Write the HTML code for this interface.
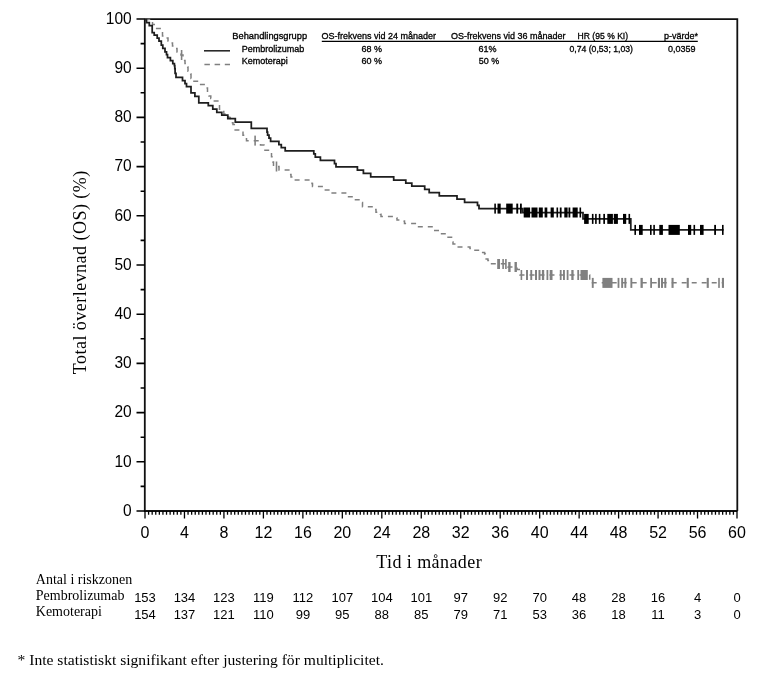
<!DOCTYPE html>
<html lang="sv"><head><meta charset="utf-8"><title>Total överlevnad (OS)</title>
<style>html,body{margin:0;padding:0;background:#fff;width:762px;height:675px;overflow:hidden}svg{display:block}</style>
</head><body><svg width="762" height="675" viewBox="0 0 762 675"><path d="M144.8 19.2H737.3V511M144.8 19.2V511H737.3" fill="none" stroke="#111" stroke-width="1.8"/><path d="M136.5 511.00H145M136.5 461.80H145M136.5 412.60H145M136.5 363.40H145M136.5 314.20H145M136.5 265.00H145M136.5 215.80H145M136.5 166.60H145M136.5 117.40H145M136.5 68.20H145M136.5 19.00H145M140.6 486.40H145M140.6 437.20H145M140.6 388.00H145M140.6 338.80H145M140.6 289.60H145M140.6 240.40H145M140.6 191.20H145M140.6 142.00H145M140.6 92.80H145M140.6 43.60H145" stroke="#000" stroke-width="1.6" fill="none"/><path d="M145.00 511V518.6M184.47 511V518.6M223.93 511V518.6M263.40 511V518.6M302.87 511V518.6M342.33 511V518.6M381.80 511V518.6M421.27 511V518.6M460.73 511V518.6M500.20 511V518.6M539.67 511V518.6M579.13 511V518.6M618.60 511V518.6M658.07 511V518.6M697.53 511V518.6M737.00 511V518.6M148.59 511V514.8M152.18 511V514.8M155.76 511V514.8M159.35 511V514.8M162.94 511V514.8M166.53 511V514.8M170.12 511V514.8M173.70 511V514.8M177.29 511V514.8M180.88 511V514.8M188.05 511V514.8M191.64 511V514.8M195.23 511V514.8M198.82 511V514.8M202.41 511V514.8M205.99 511V514.8M209.58 511V514.8M213.17 511V514.8M216.76 511V514.8M220.35 511V514.8M227.52 511V514.8M231.11 511V514.8M234.70 511V514.8M238.28 511V514.8M241.87 511V514.8M245.46 511V514.8M249.05 511V514.8M252.64 511V514.8M256.22 511V514.8M259.81 511V514.8M266.99 511V514.8M270.58 511V514.8M274.16 511V514.8M277.75 511V514.8M281.34 511V514.8M284.93 511V514.8M288.52 511V514.8M292.10 511V514.8M295.69 511V514.8M299.28 511V514.8M306.45 511V514.8M310.04 511V514.8M313.63 511V514.8M317.22 511V514.8M320.81 511V514.8M324.39 511V514.8M327.98 511V514.8M331.57 511V514.8M335.16 511V514.8M338.75 511V514.8M345.92 511V514.8M349.51 511V514.8M353.10 511V514.8M356.68 511V514.8M360.27 511V514.8M363.86 511V514.8M367.45 511V514.8M371.04 511V514.8M374.62 511V514.8M378.21 511V514.8M385.39 511V514.8M388.98 511V514.8M392.56 511V514.8M396.15 511V514.8M399.74 511V514.8M403.33 511V514.8M406.92 511V514.8M410.50 511V514.8M414.09 511V514.8M417.68 511V514.8M424.85 511V514.8M428.44 511V514.8M432.03 511V514.8M435.62 511V514.8M439.21 511V514.8M442.79 511V514.8M446.38 511V514.8M449.97 511V514.8M453.56 511V514.8M457.15 511V514.8M464.32 511V514.8M467.91 511V514.8M471.50 511V514.8M475.08 511V514.8M478.67 511V514.8M482.26 511V514.8M485.85 511V514.8M489.44 511V514.8M493.02 511V514.8M496.61 511V514.8M503.79 511V514.8M507.38 511V514.8M510.96 511V514.8M514.55 511V514.8M518.14 511V514.8M521.73 511V514.8M525.32 511V514.8M528.90 511V514.8M532.49 511V514.8M536.08 511V514.8M543.25 511V514.8M546.84 511V514.8M550.43 511V514.8M554.02 511V514.8M557.61 511V514.8M561.19 511V514.8M564.78 511V514.8M568.37 511V514.8M571.96 511V514.8M575.55 511V514.8M582.72 511V514.8M586.31 511V514.8M589.90 511V514.8M593.48 511V514.8M597.07 511V514.8M600.66 511V514.8M604.25 511V514.8M607.84 511V514.8M611.42 511V514.8M615.01 511V514.8M622.19 511V514.8M625.78 511V514.8M629.36 511V514.8M632.95 511V514.8M636.54 511V514.8M640.13 511V514.8M643.72 511V514.8M647.30 511V514.8M650.89 511V514.8M654.48 511V514.8M661.65 511V514.8M665.24 511V514.8M668.83 511V514.8M672.42 511V514.8M676.01 511V514.8M679.59 511V514.8M683.18 511V514.8M686.77 511V514.8M690.36 511V514.8M693.95 511V514.8M701.12 511V514.8M704.71 511V514.8M708.30 511V514.8M711.88 511V514.8M715.47 511V514.8M719.06 511V514.8M722.65 511V514.8M726.24 511V514.8M729.82 511V514.8M733.41 511V514.8" stroke="#000" stroke-width="1.3" fill="none"/><g font-family="Liberation Sans, Arial, sans-serif" font-size="15.5" text-anchor="end" fill="#000"><text transform="translate(131.7 515.72) scale(1 1.03)">0</text><text transform="translate(131.7 466.52) scale(1 1.03)">10</text><text transform="translate(131.7 417.32) scale(1 1.03)">20</text><text transform="translate(131.7 368.12) scale(1 1.03)">30</text><text transform="translate(131.7 318.92) scale(1 1.03)">40</text><text transform="translate(131.7 269.72) scale(1 1.03)">50</text><text transform="translate(131.7 220.52) scale(1 1.03)">60</text><text transform="translate(131.7 171.32) scale(1 1.03)">70</text><text transform="translate(131.7 122.12) scale(1 1.03)">80</text><text transform="translate(131.7 72.92) scale(1 1.03)">90</text><text transform="translate(131.7 23.72) scale(1 1.03)">100</text></g><g font-family="Liberation Sans, Arial, sans-serif" font-size="16" text-anchor="middle" fill="#000"><text transform="translate(145.00 537.83) scale(1 1.0)">0</text><text transform="translate(184.47 537.83) scale(1 1.0)">4</text><text transform="translate(223.93 537.83) scale(1 1.0)">8</text><text transform="translate(263.40 537.83) scale(1 1.0)">12</text><text transform="translate(302.87 537.83) scale(1 1.0)">16</text><text transform="translate(342.33 537.83) scale(1 1.0)">20</text><text transform="translate(381.80 537.83) scale(1 1.0)">24</text><text transform="translate(421.27 537.83) scale(1 1.0)">28</text><text transform="translate(460.73 537.83) scale(1 1.0)">32</text><text transform="translate(500.20 537.83) scale(1 1.0)">36</text><text transform="translate(539.67 537.83) scale(1 1.0)">40</text><text transform="translate(579.13 537.83) scale(1 1.0)">44</text><text transform="translate(618.60 537.83) scale(1 1.0)">48</text><text transform="translate(658.07 537.83) scale(1 1.0)">52</text><text transform="translate(697.53 537.83) scale(1 1.0)">56</text><text transform="translate(737.00 537.83) scale(1 1.0)">60</text></g><text transform="translate(86.2 374.2) rotate(-90)" font-family="Liberation Serif, Times New Roman, serif" font-size="18" letter-spacing="0.47" fill="#000">Total överlevnad (OS) (%)</text><text x="376.2" y="568" font-family="Liberation Serif, Times New Roman, serif" font-size="18" letter-spacing="0.43" fill="#000">Tid i månader</text><g font-family="Liberation Serif, Times New Roman, serif" font-size="14" fill="#000"><text x="35.8" y="584">Antal i riskzonen</text><text x="35.8" y="599.6">Pembrolizumab</text><text x="35.8" y="615.6">Kemoterapi</text></g><g font-family="Liberation Sans, Arial, sans-serif" font-size="13" text-anchor="middle" fill="#000"><text x="145.0" y="602">153</text><text x="145.0" y="618.6">154</text><text x="184.5" y="602">134</text><text x="184.5" y="618.6">137</text><text x="223.9" y="602">123</text><text x="223.9" y="618.6">121</text><text x="263.4" y="602">119</text><text x="263.4" y="618.6">110</text><text x="302.9" y="602">112</text><text x="302.9" y="618.6">99</text><text x="342.3" y="602">107</text><text x="342.3" y="618.6">95</text><text x="381.8" y="602">104</text><text x="381.8" y="618.6">88</text><text x="421.3" y="602">101</text><text x="421.3" y="618.6">85</text><text x="460.7" y="602">97</text><text x="460.7" y="618.6">79</text><text x="500.2" y="602">92</text><text x="500.2" y="618.6">71</text><text x="539.7" y="602">70</text><text x="539.7" y="618.6">53</text><text x="579.1" y="602">48</text><text x="579.1" y="618.6">36</text><text x="618.6" y="602">28</text><text x="618.6" y="618.6">18</text><text x="658.1" y="602">16</text><text x="658.1" y="618.6">11</text><text x="697.5" y="602">4</text><text x="697.5" y="618.6">3</text><text x="737.0" y="602">0</text><text x="737.0" y="618.6">0</text></g><text x="17.5" y="664.7" font-family="Liberation Serif, Times New Roman, serif" font-size="15.6" fill="#000">* Inte statistiskt signifikant efter justering för multiplicitet.</text><g font-family="Liberation Sans, Arial, sans-serif" font-size="9" fill="#000" stroke="#000" stroke-width="0.3"><text transform="translate(232.3 39.45) scale(1 1.07)" textLength="74.8" lengthAdjust="spacingAndGlyphs">Behandlingsgrupp</text><text transform="translate(241.7 51.7) scale(1 1.07)">Pembrolizumab</text><text transform="translate(241.7 63.5) scale(1 1.07)">Kemoterapi</text><text transform="translate(321.6 39.45) scale(1 1.07)">OS-frekvens vid 24 månader</text><text transform="translate(451.0 39.45) scale(1 1.07)">OS-frekvens vid 36 månader</text><text transform="translate(577.6 39.45) scale(1 1.07)" textLength="50.5" lengthAdjust="spacingAndGlyphs">HR (95 % KI)</text><text transform="translate(664.0 39.45) scale(1 1.07)">p-värde*</text><text transform="translate(361.5 51.7) scale(1 1.07)">68 %</text><text transform="translate(361.5 63.5) scale(1 1.07)">60 %</text><text transform="translate(478.5 51.7) scale(1 1.07)">61%</text><text transform="translate(478.8 63.5) scale(1 1.07)">50 %</text><text transform="translate(569.4 51.7) scale(1 1.07)" textLength="63.6" lengthAdjust="spacingAndGlyphs">0,74 (0,53; 1,03)</text><text transform="translate(668.0 51.7) scale(1 1.07)">0,0359</text></g><path d="M321.8 41.4H697.8" stroke="#000" stroke-width="1.2"/><path d="M204 50.8H230" stroke="#2a2a2a" stroke-width="1.6"/><path d="M204.4 64.5H230" stroke="#808080" stroke-width="1.4" stroke-dasharray="5.5 4.7"/><path d="M145 19.5H149.5V21.5H152.5V24.5H155.5V28.6H161.5V32H162.5V36H166.5V38H168V41H171V43H172.5V46H175.5V48.5H177V52H181V55H183V60.6H185V63.6H187.7V67H188V71.3H190.7V74H191V78.4H192.5V81.3H199V84.6H207.2V88H207.5V92H209V96H210.8V98.5H212.5V100.9H219.1V105H219.5V109.2H222V111.5H223.8V113.9H228.6V117.4H230.3V119.2H231.5V122.8H233V124.6H234.3V130.1H241V132.2H243V135.2H245.5V138.8H246.5V140.8H260.5V145H264V150.3H271.1V152.7H271.5V156.8H272.9V162.1H273.5V166.5H279V169.9H290.7V174.6H291V177H294.5V179.9H312V183.5H312.5V186.6H324.2V189.9H331V193.1H347.5V196.7H354V199.8H362.1V202.4H362.5V206.7H375.8V209.6H376V212.2H380.4V214.2H381V216.6H396.8V218.1H397V220.1H404.1V221H404.5V223.4H416.5V226.7H433V230.5H439.5V233.7H446.5V237.2H452.3V242H453V244H457V247H470V248.6H474V250.3H481.3V252.6H484.6V253.9H485.3V259.1H487.9V260.4H490.5V263.7H508V267H517V269.5H520V275H589.7V282.8H724" fill="none" stroke="#808080" stroke-width="1.5" stroke-dasharray="5 5"/><path d="M145 19.5H146.5V22.5H149.3V25.5H152.2V32.5H154.2V35H157.2V38H159V41.2H161.3V45H162.8V48.4H165V51.8H166.5V54.5H167.5V57.7H170.4V60.7H172.8V63.5H174.4V65.5H174.8V68.5H175.1V73.4H176V77.3H182.5V80.6H185V83.5H186.5V86.5H191V92.9H194.9V96.4H198.8V102.8H208.3V105.6H212.8V109.2H216.8V112.3H221.8V115.2H227.8V118.7H235.3V122.1H251.3V128.4H267V132H267.6V135H269V138H270.6V141.4H278.9V144.5H281.3V147.6H285.2V150.8H313.8V153.8H315.3V157.1H320.4V160.3H334.5V163.6H336V166.9H357.4V170.2H363.4V173.4H370.7V176.8H393.7V180.1H405.8V183.1H411.8V186H424.7V189.3H429.2V192.6H439.3V195.8H457V199H464.6V202.3H477.5V205.3H479V208.6H522.8V212.5H583V218.9H630.8V229.9H723.6" fill="none" stroke="#1e1e1e" stroke-width="1.75"/><g fill="#000"><rect x="494.3" y="203.6" width="1.6" height="10"/><rect x="497.5" y="203.6" width="3.2" height="10"/><rect x="506.2" y="203.6" width="6.5" height="10"/><rect x="516.3" y="203.6" width="1.9" height="10"/><rect x="520.0" y="203.6" width="1.8" height="10"/></g><g fill="#000"><rect x="523.7" y="207.5" width="6.4" height="10"/><rect x="531.5" y="207.5" width="6.0" height="10"/><rect x="538.8" y="207.5" width="4.0" height="10"/><rect x="544.6" y="207.5" width="2.7" height="10"/><rect x="550.6" y="207.5" width="3.2" height="10"/><rect x="556.5" y="207.5" width="1.6" height="10"/><rect x="559.8" y="207.5" width="1.8" height="10"/><rect x="564.3" y="207.5" width="3.3" height="10"/><rect x="568.5" y="207.5" width="1.8" height="10"/><rect x="572.6" y="207.5" width="5.1" height="10"/><rect x="579.5" y="207.5" width="1.6" height="10"/></g><g fill="#000"><rect x="584.1" y="213.9" width="4.6" height="10"/><rect x="591.9" y="213.9" width="1.6" height="10"/><rect x="595.1" y="213.9" width="1.6" height="10"/><rect x="598.8" y="213.9" width="1.6" height="10"/><rect x="603.3" y="213.9" width="1.7" height="10"/><rect x="607.3" y="213.9" width="5.6" height="10"/><rect x="613.8" y="213.9" width="4.1" height="10"/><rect x="623.0" y="213.9" width="3.2" height="10"/><rect x="628.5" y="213.9" width="1.6" height="10"/></g><g fill="#000"><rect x="634.4" y="224.9" width="1.6" height="10"/><rect x="639.0" y="224.9" width="3.7" height="10"/><rect x="650.0" y="224.9" width="1.6" height="10"/><rect x="653.3" y="224.9" width="1.6" height="10"/><rect x="659.3" y="224.9" width="3.6" height="10"/><rect x="668.5" y="224.9" width="11.3" height="10"/><rect x="688.0" y="224.9" width="3.2" height="10"/><rect x="693.5" y="224.9" width="1.6" height="10"/><rect x="700.0" y="224.9" width="3.6" height="10"/><rect x="714.2" y="224.9" width="1.8" height="10"/><rect x="722.0" y="224.9" width="1.6" height="10"/></g><g fill="#808080"><rect x="180.8" y="50.0" width="1.6" height="10"/></g><g fill="#808080"><rect x="254.3" y="135.6" width="1.6" height="10"/></g><g fill="#808080"><rect x="275.7" y="161.5" width="1.6" height="10"/></g><g fill="#808080"><rect x="497.2" y="259.0" width="2.8" height="10"/><rect x="502.3" y="259.0" width="1.6" height="10"/><rect x="505.1" y="259.0" width="1.6" height="10"/></g><g fill="#808080"><rect x="508.2" y="262.0" width="2.4" height="10"/><rect x="514.5" y="262.0" width="2.4" height="10"/></g><g fill="#808080"><rect x="520.6" y="270.0" width="1.6" height="10"/><rect x="526.0" y="270.0" width="2.0" height="10"/><rect x="530.3" y="270.0" width="1.9" height="10"/><rect x="535.0" y="270.0" width="2.0" height="10"/><rect x="538.5" y="270.0" width="2.0" height="10"/><rect x="541.9" y="270.0" width="2.3" height="10"/><rect x="546.5" y="270.0" width="1.8" height="10"/><rect x="549.7" y="270.0" width="2.8" height="10"/><rect x="559.8" y="270.0" width="1.8" height="10"/><rect x="563.0" y="270.0" width="1.9" height="10"/><rect x="566.7" y="270.0" width="1.8" height="10"/><rect x="571.3" y="270.0" width="2.3" height="10"/><rect x="577.3" y="270.0" width="1.8" height="10"/><rect x="580.5" y="270.0" width="7.3" height="10"/></g><g fill="#808080"><rect x="591.8" y="277.9" width="1.9" height="10"/><rect x="602.4" y="277.9" width="10.1" height="10"/><rect x="617.6" y="277.9" width="1.8" height="10"/><rect x="621.2" y="277.9" width="1.9" height="10"/><rect x="624.4" y="277.9" width="1.9" height="10"/><rect x="630.4" y="277.9" width="1.9" height="10"/><rect x="640.5" y="277.9" width="2.3" height="10"/><rect x="650.2" y="277.9" width="1.8" height="10"/><rect x="657.9" y="277.9" width="2.1" height="10"/><rect x="661.0" y="277.9" width="2.0" height="10"/><rect x="664.3" y="277.9" width="2.0" height="10"/><rect x="671.5" y="277.9" width="2.1" height="10"/><rect x="686.7" y="277.9" width="2.1" height="10"/><rect x="706.7" y="277.9" width="2.1" height="10"/><rect x="718.2" y="277.9" width="1.6" height="10"/><rect x="721.9" y="277.9" width="2.1" height="10"/></g></svg></body></html>
